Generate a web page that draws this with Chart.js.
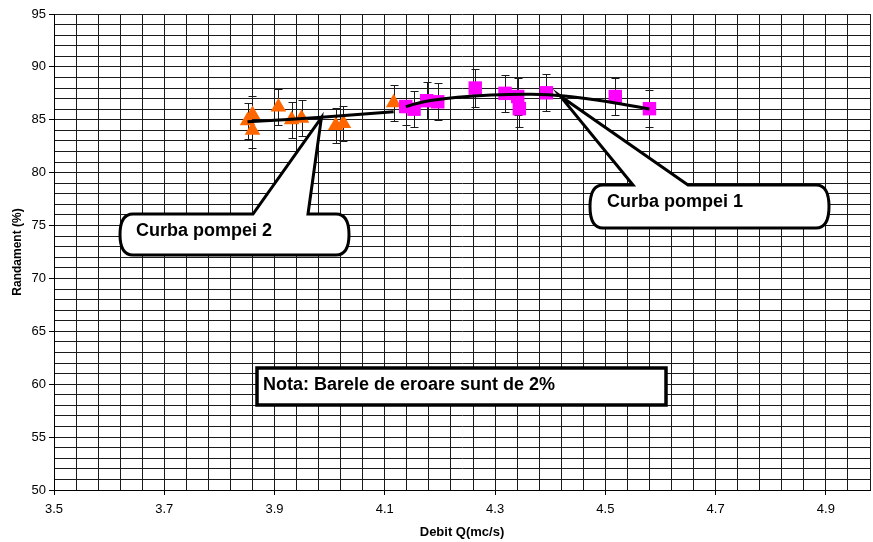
<!DOCTYPE html>
<html>
<head>
<meta charset="utf-8">
<script src="https://cdn.jsdelivr.net/npm/chart.js@4"></script>
<style>
  html, body { margin: 0; padding: 0; background: #fff; }
  #wrap { width: 873px; height: 542px; position: relative; }
</style>
</head>
<body>
<div id="wrap"><canvas id="chart"></canvas></div>
<script>
// pump 2 (triangles) and pump 1 (squares)
const pump2X = [3.851, 3.86, 3.86, 3.907, 3.931, 3.949, 4.011, 4.025, 4.116];
const pump2Y = [84.9, 85.5, 84.0, 86.2, 85.0, 85.15, 84.45, 84.65, 86.6];
const pump1X = [4.138, 4.153, 4.176, 4.196, 4.264, 4.318, 4.341, 4.344, 4.393, 4.518, 4.58];
const pump1Y = [86.25, 86.0, 86.8, 86.7, 88.0, 87.5, 87.2, 86.05, 87.55, 87.2, 86.05];

// trend curves
const curve1X = [4.138, 4.171, 4.232, 4.293, 4.366, 4.426, 4.505, 4.58];
const curve1Y = [86.24, 86.71, 87.12, 87.34, 87.41, 87.25, 86.71, 86.02];
const curve2X = [3.851, 3.917, 3.985, 4.116];
const curve2Y = [84.82, 85.0, 85.24, 85.77];

const errorPct = 2;

const xTickLabels = ['3.5', '3.7', '3.9', '4.1', '4.3', '4.5', '4.7', '4.9'];
const yTickLabels = ['50', '55', '60', '65', '70', '75', '80', '85', '90', '95'];

const FONT = "'Liberation Sans', Arial, sans-serif";

function toPoints(xs, ys) {
  return xs.map((x, i) => ({ x, y: ys[i] }));
}

function findLabel(labels, value) {
  const hit = labels.find(l => Math.abs(parseFloat(l) - value) < 1e-6);
  return hit === undefined ? '' : hit;
}

const errorBars = {
  id: 'errorBars',
  beforeDatasetsDraw(chart) {
    const { ctx, scales: { x, y } } = chart;
    ctx.save();
    ctx.strokeStyle = '#1a1a1a';
    ctx.lineWidth = 1;
    [[pump1X, pump1Y], [pump2X, pump2Y]].forEach(([xs, ys]) => {
      xs.forEach((xv, i) => {
        const err = ys[i] * errorPct / 100;
        const px = Math.round(x.getPixelForValue(xv)) + 0.5;
        const top = Math.round(y.getPixelForValue(ys[i] + err)) + 0.5;
        const bot = Math.round(y.getPixelForValue(ys[i] - err)) + 0.5;
        ctx.beginPath();
        ctx.moveTo(px, top); ctx.lineTo(px, bot);
        ctx.moveTo(px - 4, top); ctx.lineTo(px + 4, top);
        ctx.moveTo(px - 4, bot); ctx.lineTo(px + 4, bot);
        ctx.stroke();
      });
    });
    ctx.restore();
  },
};

function drawCallout(ctx, box, baseL, baseR, tip, text, textPos) {
  const { x, y, w, h } = box;
  const r = 11;
  ctx.beginPath();
  ctx.moveTo(x + r, y);
  ctx.lineTo(baseL, y);
  ctx.lineTo(tip.x, tip.y);
  ctx.lineTo(baseR, y);
  ctx.lineTo(x + w - r, y);
  ctx.quadraticCurveTo(x + w + 2, y, x + w + 2, y + h / 2);
  ctx.quadraticCurveTo(x + w + 2, y + h, x + w - r, y + h);
  ctx.lineTo(x + r, y + h);
  ctx.quadraticCurveTo(x - 2, y + h, x - 2, y + h / 2);
  ctx.quadraticCurveTo(x - 2, y, x + r, y);
  ctx.closePath();
  ctx.fillStyle = '#fff';
  ctx.fill();
  ctx.lineWidth = 3;
  ctx.lineJoin = 'miter';
  ctx.strokeStyle = '#000';
  ctx.stroke();
  ctx.fillStyle = '#000';
  ctx.font = 'bold 18px ' + FONT;
  ctx.textBaseline = 'middle';
  ctx.textAlign = 'left';
  ctx.fillText(text, textPos.x, textPos.y);
}

const annotations = {
  id: 'annotations',
  afterDatasetsDraw(chart) {
    const { ctx, scales: { x, y } } = chart;
    ctx.save();
    drawCallout(ctx, { x: 592, y: 185, w: 235, h: 43 }, 633, 688,
      { x: x.getPixelForValue(4.418), y: y.getPixelForValue(87.25) },
      'Curba pompei 1', { x: 607, y: 202 });
    drawCallout(ctx, { x: 122, y: 214, w: 225, h: 41 }, 253, 308,
      { x: x.getPixelForValue(3.985), y: y.getPixelForValue(85.2) },
      'Curba pompei 2', { x: 136, y: 231 });

    ctx.fillStyle = '#fff';
    ctx.fillRect(257, 368, 409, 37);
    ctx.lineWidth = 3.5;
    ctx.strokeStyle = '#000';
    ctx.strokeRect(257, 368, 409, 37);
    ctx.fillStyle = '#000';
    ctx.font = 'bold 18px ' + FONT;
    ctx.textBaseline = 'middle';
    ctx.fillText('Nota: Barele de eroare sunt de 2%', 263, 385);
    ctx.restore();
  },
};

new Chart(document.getElementById('chart'), {
  type: 'scatter',
  data: {
    datasets: [
      {
        label: 'Curba 1',
        data: toPoints(curve1X, curve1Y),
        showLine: true,
        borderColor: '#000',
        borderWidth: 3,
        pointRadius: 0,
        tension: 0.4,
      },
      {
        label: 'Curba 2',
        data: toPoints(curve2X, curve2Y),
        showLine: true,
        borderColor: '#000',
        borderWidth: 3,
        pointRadius: 0,
        tension: 0.4,
      },
      {
        label: 'Pompa 1',
        data: toPoints(pump1X, pump1Y),
        pointStyle: 'rect',
        pointRadius: 9.5,
        backgroundColor: '#FF00FF',
        borderColor: '#FF00FF',
        borderWidth: 0,
      },
      {
        label: 'Pompa 2',
        data: toPoints(pump2X, pump2Y),
        pointStyle: 'triangle',
        pointRadius: 9,
        backgroundColor: '#FF6600',
        borderColor: '#FF6600',
        borderWidth: 0,
      },
    ],
  },
  options: {
    responsive: true,
    maintainAspectRatio: false,
    animation: false,
    events: [],
    layout: { autoPadding: false, padding: { top: 14, right: 3, left: 0, bottom: 0 } },
    plugins: {
      legend: { display: false },
      tooltip: { enabled: false },
    },
    scales: {
      x: {
        type: 'linear',
        min: 3.5,
        max: 4.98,
        afterFit: scale => {
          scale.height = 52;
          scale.paddingLeft = 0;
          scale.paddingRight = 0;
        },
        border: { color: '#000', width: 1 },
        grid: {
          color: '#1a1a1a',
          lineWidth: 1,
          tickLength: 5,
          tickColor: c => (findLabel(xTickLabels, c.tick.value) ? '#000' : 'rgba(0,0,0,0)'),
        },
        ticks: {
          stepSize: 0.04,
          autoSkip: false,
          maxRotation: 0,
          padding: 7,
          color: '#000',
          font: { family: FONT, size: 13 },
          callback: value => findLabel(xTickLabels, value),
        },
        title: {
          display: true,
          text: 'Debit Q(mc/s)',
          color: '#000',
          font: { family: FONT, size: 13, weight: 'bold' },
          padding: { top: 0, bottom: 2 },
        },
      },
      y: {
        type: 'linear',
        min: 50,
        max: 95,
        afterFit: scale => { scale.width = 54; },
        border: { color: '#000', width: 1 },
        grid: {
          color: '#1a1a1a',
          lineWidth: 1,
          tickLength: 5,
          tickColor: c => (findLabel(yTickLabels, c.tick.value) ? '#000' : 'rgba(0,0,0,0)'),
        },
        ticks: {
          stepSize: 1,
          autoSkip: false,
          padding: 3,
          color: '#000',
          font: { family: FONT, size: 13 },
          callback: value => findLabel(yTickLabels, value),
        },
        title: {
          display: true,
          text: 'Randament (%)',
          color: '#000',
          font: { family: FONT, size: 12, weight: 'bold' },
          padding: { top: 10, bottom: 0 },
        },
      },
    },
  },
  plugins: [errorBars, annotations],
});
</script>
</body>
</html>
